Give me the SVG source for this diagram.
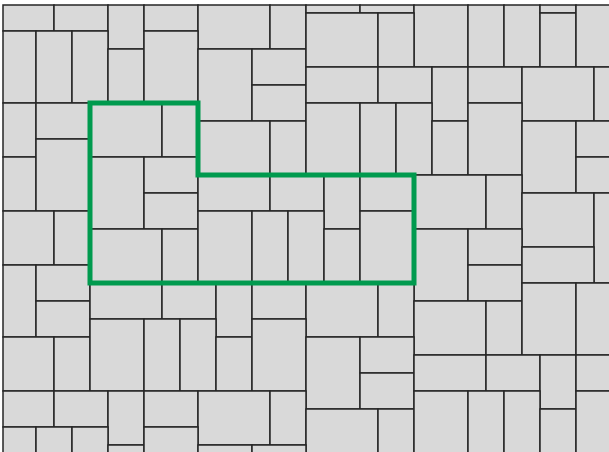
<svg xmlns="http://www.w3.org/2000/svg" width="609" height="452" viewBox="0 0 609 452">
<style>
.t{fill:#d9d9d9;stroke:#262626;stroke-width:1.5}
.g{fill:none;stroke:#009a4e;stroke-width:5;stroke-linejoin:miter}
</style>
<rect x="0" y="0" width="609" height="452" fill="#ffffff"/>
<g id="tiles">
<rect class="t" x="3" y="5" width="51" height="26"/>
<rect class="t" x="54" y="5" width="54" height="26"/>
<rect class="t" x="108" y="5" width="36" height="44"/>
<rect class="t" x="144" y="5" width="54" height="26"/>
<rect class="t" x="198" y="5" width="72" height="44"/>
<rect class="t" x="270" y="5" width="36" height="44"/>
<rect class="t" x="306" y="5" width="54" height="8"/>
<rect class="t" x="360" y="5" width="54" height="8"/>
<rect class="t" x="414" y="5" width="54" height="62"/>
<rect class="t" x="468" y="5" width="36" height="62"/>
<rect class="t" x="504" y="5" width="36" height="62"/>
<rect class="t" x="540" y="5" width="36" height="8"/>
<rect class="t" x="540" y="13" width="36" height="54"/>
<rect class="t" x="576" y="5" width="44" height="62"/>
<rect class="t" x="3" y="31" width="33" height="72"/>
<rect class="t" x="36" y="31" width="36" height="72"/>
<rect class="t" x="72" y="31" width="36" height="72"/>
<rect class="t" x="108" y="49" width="36" height="54"/>
<rect class="t" x="144" y="31" width="54" height="72"/>
<rect class="t" x="198" y="49" width="54" height="72"/>
<rect class="t" x="252" y="49" width="54" height="36"/>
<rect class="t" x="252" y="85" width="54" height="36"/>
<rect class="t" x="306" y="13" width="72" height="54"/>
<rect class="t" x="378" y="13" width="36" height="54"/>
<rect class="t" x="306" y="67" width="72" height="36"/>
<rect class="t" x="378" y="67" width="54" height="36"/>
<rect class="t" x="432" y="67" width="36" height="54"/>
<rect class="t" x="468" y="67" width="54" height="36"/>
<rect class="t" x="522" y="67" width="72" height="54"/>
<rect class="t" x="594" y="67" width="26" height="54"/>
<rect class="t" x="3" y="103" width="33" height="54"/>
<rect class="t" x="36" y="103" width="54" height="36"/>
<rect class="t" x="90" y="103" width="72" height="54"/>
<rect class="t" x="162" y="103" width="36" height="54"/>
<rect class="t" x="198" y="121" width="72" height="54"/>
<rect class="t" x="270" y="121" width="36" height="54"/>
<rect class="t" x="306" y="103" width="54" height="72"/>
<rect class="t" x="360" y="103" width="36" height="72"/>
<rect class="t" x="396" y="103" width="36" height="72"/>
<rect class="t" x="432" y="121" width="36" height="54"/>
<rect class="t" x="468" y="103" width="54" height="72"/>
<rect class="t" x="522" y="121" width="54" height="72"/>
<rect class="t" x="576" y="121" width="44" height="36"/>
<rect class="t" x="576" y="157" width="44" height="36"/>
<rect class="t" x="3" y="157" width="33" height="54"/>
<rect class="t" x="36" y="139" width="54" height="72"/>
<rect class="t" x="90" y="157" width="54" height="72"/>
<rect class="t" x="144" y="157" width="54" height="36"/>
<rect class="t" x="144" y="193" width="54" height="36"/>
<rect class="t" x="198" y="175" width="72" height="36"/>
<rect class="t" x="270" y="175" width="54" height="36"/>
<rect class="t" x="324" y="175" width="36" height="54"/>
<rect class="t" x="360" y="175" width="54" height="36"/>
<rect class="t" x="414" y="175" width="72" height="54"/>
<rect class="t" x="486" y="175" width="36" height="54"/>
<rect class="t" x="522" y="193" width="72" height="54"/>
<rect class="t" x="594" y="193" width="26" height="90"/>
<rect class="t" x="3" y="211" width="51" height="54"/>
<rect class="t" x="54" y="211" width="36" height="54"/>
<rect class="t" x="90" y="229" width="72" height="54"/>
<rect class="t" x="162" y="229" width="36" height="54"/>
<rect class="t" x="198" y="211" width="54" height="72"/>
<rect class="t" x="252" y="211" width="36" height="72"/>
<rect class="t" x="288" y="211" width="36" height="72"/>
<rect class="t" x="324" y="229" width="36" height="54"/>
<rect class="t" x="360" y="211" width="54" height="72"/>
<rect class="t" x="414" y="229" width="54" height="72"/>
<rect class="t" x="468" y="229" width="54" height="36"/>
<rect class="t" x="468" y="265" width="54" height="36"/>
<rect class="t" x="522" y="247" width="72" height="36"/>
<rect class="t" x="3" y="265" width="33" height="72"/>
<rect class="t" x="36" y="265" width="54" height="36"/>
<rect class="t" x="36" y="301" width="54" height="36"/>
<rect class="t" x="90" y="283" width="72" height="36"/>
<rect class="t" x="162" y="283" width="54" height="36"/>
<rect class="t" x="216" y="283" width="36" height="54"/>
<rect class="t" x="252" y="283" width="54" height="36"/>
<rect class="t" x="306" y="283" width="72" height="54"/>
<rect class="t" x="378" y="283" width="36" height="54"/>
<rect class="t" x="414" y="301" width="72" height="54"/>
<rect class="t" x="486" y="301" width="36" height="54"/>
<rect class="t" x="522" y="283" width="54" height="72"/>
<rect class="t" x="576" y="283" width="44" height="72"/>
<rect class="t" x="3" y="337" width="51" height="54"/>
<rect class="t" x="54" y="337" width="36" height="54"/>
<rect class="t" x="90" y="319" width="54" height="72"/>
<rect class="t" x="144" y="319" width="36" height="72"/>
<rect class="t" x="180" y="319" width="36" height="72"/>
<rect class="t" x="216" y="337" width="36" height="54"/>
<rect class="t" x="252" y="319" width="54" height="72"/>
<rect class="t" x="306" y="337" width="54" height="72"/>
<rect class="t" x="360" y="337" width="54" height="36"/>
<rect class="t" x="360" y="373" width="54" height="36"/>
<rect class="t" x="414" y="355" width="72" height="36"/>
<rect class="t" x="486" y="355" width="54" height="36"/>
<rect class="t" x="540" y="355" width="36" height="54"/>
<rect class="t" x="576" y="355" width="44" height="36"/>
<rect class="t" x="3" y="391" width="51" height="36"/>
<rect class="t" x="54" y="391" width="54" height="36"/>
<rect class="t" x="108" y="391" width="36" height="54"/>
<rect class="t" x="144" y="391" width="54" height="36"/>
<rect class="t" x="198" y="391" width="72" height="54"/>
<rect class="t" x="270" y="391" width="36" height="54"/>
<rect class="t" x="306" y="409" width="72" height="51"/>
<rect class="t" x="378" y="409" width="36" height="51"/>
<rect class="t" x="414" y="391" width="54" height="69"/>
<rect class="t" x="468" y="391" width="36" height="69"/>
<rect class="t" x="504" y="391" width="36" height="69"/>
<rect class="t" x="540" y="409" width="36" height="51"/>
<rect class="t" x="576" y="391" width="44" height="69"/>
<rect class="t" x="3" y="427" width="33" height="33"/>
<rect class="t" x="36" y="427" width="36" height="33"/>
<rect class="t" x="72" y="427" width="36" height="33"/>
<rect class="t" x="108" y="445" width="36" height="15"/>
<rect class="t" x="144" y="427" width="54" height="33"/>
<rect class="t" x="198" y="445" width="54" height="15"/>
<rect class="t" x="252" y="445" width="54" height="15"/>
</g>
<g id="outline">
<path class="g" d="M90,103 H198 V175 H414 V283 H90 Z"/>
</g>
</svg>
